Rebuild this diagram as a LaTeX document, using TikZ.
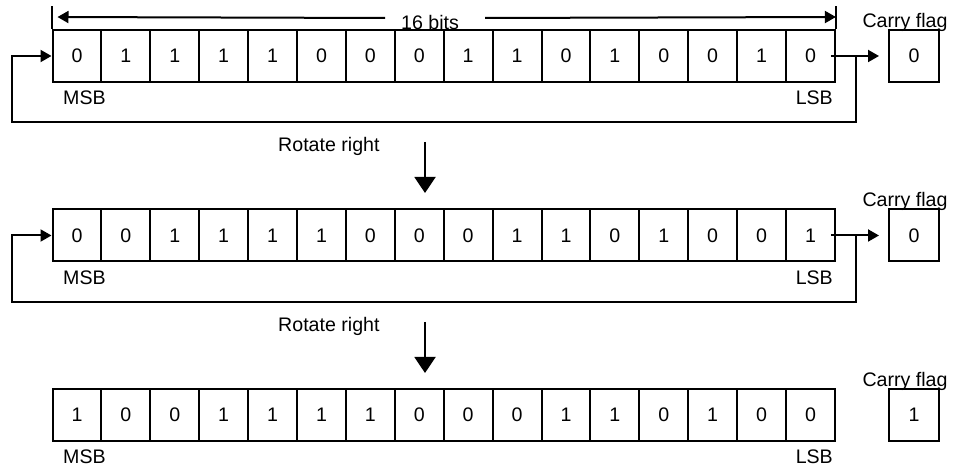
\documentclass[tikz,border=0pt]{standalone}
\usepackage{fontspec}
\setmainfont{Liberation Sans}
\usetikzlibrary{arrows.meta, positioning, calc}

\begin{document}
\begin{tikzpicture}[
  x=1pt, y=1pt,
  font=\fontsize{19.6}{23}\selectfont,
  bitcell/.style={rectangle, draw, line width=2pt, minimum width=48.9pt, minimum height=52pt, inner sep=0pt},
  carrybox/.style={rectangle, draw, line width=2pt, minimum width=50pt, minimum height=52pt, inner sep=0pt},
  tag/.style={inner sep=0pt},
  arrow/.style={line width=2pt, -{Triangle[length=11pt, width=12pt]}},
  bigarrow/.style={line width=2pt, -{Triangle[length=16pt, width=21pt]}}
]
\useasboundingbox (0,0) rectangle (953,468);

% Register cells (three states)
\foreach \b [count=\i] in {0,1,1,1,1,0,0,0,1,1,0,1,0,0,1,0}
  \node[bitcell] (a\i) at ({52.5+48.9*(\i-0.5)}, 412) {\b};
\foreach \b [count=\i] in {0,0,1,1,1,1,0,0,0,1,1,0,1,0,0,1}
  \node[bitcell] (b\i) at ({52.5+48.9*(\i-0.5)}, 232.5) {\b};
\foreach \b [count=\i] in {1,0,0,1,1,1,1,0,0,0,1,1,0,1,0,0}
  \node[bitcell] (c\i) at ({52.5+48.9*(\i-0.5)}, 53) {\b};

% Carry flags
\node[carrybox] (carrya) at (914,412) {0};
\node[carrybox] (carryb) at (914,232.5) {0};
\node[carrybox] (carryc) at (914,53) {1};
\node[tag, anchor=base] (flaga) at (905,440.5) {Carry flag};
\node[tag, anchor=base] (flagb) at (905,261) {Carry flag};
\node[tag, anchor=base] (flagc) at (905,81.5) {Carry flag};

% MSB / LSB labels
\node[tag, anchor=base west] (msba) at (63,363) {MSB};
\node[tag, anchor=base east] (lsba) at (833,363) {LSB};
\node[tag, anchor=base west] (msbb) at (63,183.5) {MSB};
\node[tag, anchor=base east] (lsbb) at (833,183.5) {LSB};
\node[tag, anchor=base west] (msbc) at (63,4) {MSB};
\node[tag, anchor=base east] (lsbc) at (833,4) {LSB};

% Width of the register
\draw[line width=2pt] (a1.north west) -- ++(0,23);
\draw[line width=2pt] (a16.north east) -- ++(0,23);
\node[tag, anchor=base] (bits) at (430,438) {16 bits};
\coordinate (dimla) at ($(a1.north west)+(0,12)$);
\coordinate (dimra) at ($(a16.north east)+(0,12)$);
\coordinate (gapl) at (385,450);
\coordinate (gapr) at (485,450);
\draw[arrow, shorten >=6pt] (gapl) -- (dimla);
\draw[arrow] (gapr) -- (dimra);

% Rotation loops
\coordinate (tapa) at (856,412);
\coordinate (loopa) at (12,346);
\draw[arrow, shorten >=9pt, shorten <=-5pt] (a16.east) -- (carrya.west);
\draw[arrow] (tapa) |- (loopa) |- (a1.west);
\coordinate (tapb) at (856,232.5);
\coordinate (loopb) at (12,166);
\draw[arrow, shorten >=9pt, shorten <=-5pt] (b16.east) -- (carryb.west);
\draw[arrow] (tapb) |- (loopb) |- (b1.west);

% Rotate right steps
\node[tag, anchor=base west] (rota) at (278,316) {Rotate right};
\node[tag, anchor=base west] (rotb) at (278,136) {Rotate right};
\coordinate (stepatop) at (425,326);
\coordinate (stepabot) at (425,275);
\coordinate (stepbtop) at (425,146);
\coordinate (stepbbot) at (425,95);
\draw[bigarrow] (stepatop) -- (stepabot);
\draw[bigarrow] (stepbtop) -- (stepbbot);

\end{tikzpicture}
\end{document}
